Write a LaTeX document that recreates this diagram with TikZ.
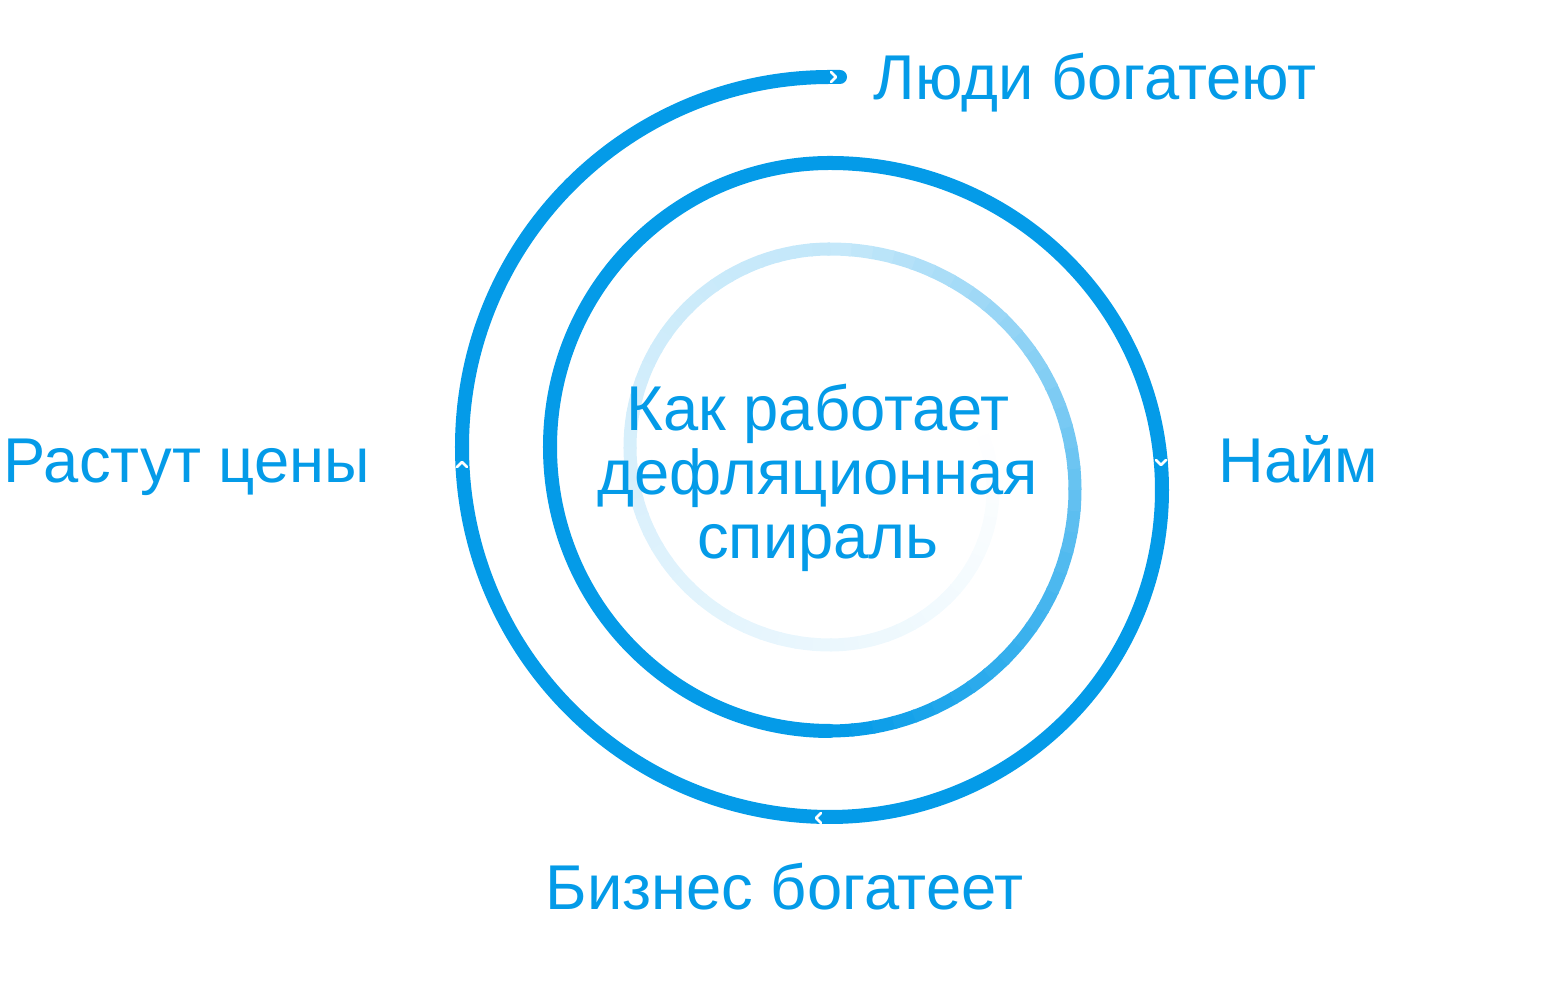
\documentclass[tikz,border=0pt]{standalone}
\usepackage{fontspec}
\setmainfont{Liberation Sans}
\usetikzlibrary{positioning}
\definecolor{spiral}{HTML}{049BE8}

\begin{document}
\begin{tikzpicture}[x=0.01cm,y=0.01cm,
  coil/.style={draw=spiral,line width=0.14cm,line cap=round},
  fade/.style={line width=0.13cm,line cap=butt},
  chev/.style={draw=white,line width=0.75pt,line cap=round,line join=round},
  lbl/.style={text=spiral,font=\fontsize{18}{18.2}\selectfont,inner sep=0pt}]
\useasboundingbox (0,0) rectangle (1568,997);
% solid outer turns
\draw[coil] (840,920) -- (830,920)
  arc[start angle=90,end angle=270,x radius=368,y radius=370]
  arc[start angle=270,end angle=450,x radius=332,y radius=327]
  arc[start angle=90,end angle=270,x radius=280,y radius=284];
% inner turns, fading out
\foreach \i in {0,...,35} {
  \pgfmathsetmacro\ang{270+5*\i}
  \pgfmathsetmacro\pct{100-2.2*\i}
  \draw[fade,spiral!\pct] (830,507) ++(\ang:245 and 241)
    arc[start angle=\ang,delta angle=5.6,x radius=245,y radius=241];
}
\foreach \i in {0,...,35} {
  \pgfmathsetmacro\ang{90+5*\i}
  \pgfmathsetmacro\pct{24-0.45*\i}
  \draw[fade,spiral!\pct] (830,550) ++(\ang:200 and 198)
    arc[start angle=\ang,delta angle=5.6,x radius=200,y radius=198];
}
\foreach \i in {0,...,21} {
  \pgfmathsetmacro\ang{270+5*\i}
  \pgfmathsetmacro\pct{8-0.36*\i}
  \draw[fade,spiral!\pct] (830,507) ++(\ang:163 and 155)
    arc[start angle=\ang,delta angle=5.6,x radius=163,y radius=155];
}
% direction marks
\draw[chev] (831,925) -- (836,920) -- (831,915);
\draw[chev] (457,530) -- (462,535) -- (467,530);
\draw[chev] (1156,537) -- (1161,532) -- (1166,537);
\draw[chev] (821,184) -- (816,179) -- (821,174);
% labels
\node[lbl,anchor=base west] (rich) at (873,897) {Люди богатеют};
\node[lbl,anchor=base west] (prices) at (3,514) {Растут цены};
\node[lbl,anchor=base west] (hiring) at (1218,514) {Найм};
\node[lbl,anchor=base west] (business) at (545,87) {Бизнес богатеет};
\node[lbl,align=center] (title) at (818,519) {Как работает\\дефляционная\\спираль};
\end{tikzpicture}
\end{document}
